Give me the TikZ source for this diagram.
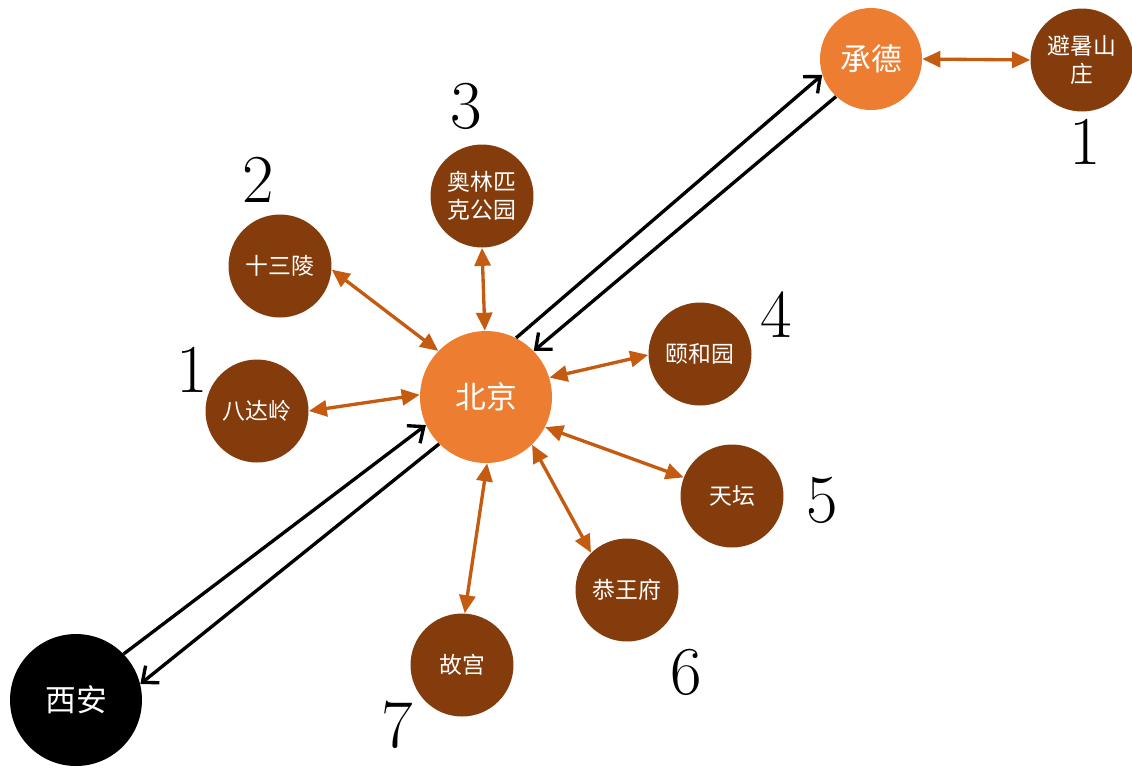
\documentclass[tikz,border=0pt]{standalone}
\usepackage{fontspec}
\newfontfamily\cjk{Noto Sans CJK SC}
\usetikzlibrary{arrows.meta}
\definecolor{hubOrange}{HTML}{ED7D31}
\definecolor{siteBrown}{HTML}{843C0C}
\definecolor{linkOrange}{HTML}{C55A11}
\tikzset{
  city/.style={circle, fill=hubOrange, text=white, minimum size=2.64cm, inner sep=0pt,
    font=\cjk\fontsize{17.5}{20}\selectfont},
  site/.style={circle, fill=siteBrown, text=white, minimum size=2.06cm, inner sep=0pt,
    align=center, font=\cjk\fontsize{13}{16}\selectfont},
  rank/.style={inner sep=0pt, font=\fontsize{39}{39}\selectfont},
  link/.style={linkOrange, line width=1.9pt,
    {Triangle[length=3.6mm,width=3.2mm]}-{Triangle[length=3.6mm,width=3.2mm]}},
  route/.style={black, line width=1.9pt, -{Straight Barb[length=2.6mm,width=4.4mm]}}
}
\begin{document}
\begin{tikzpicture}[x=0.02cm, y=-0.02cm]
    \useasboundingbox (0,0) rectangle (1132,769);

    % Cities
    \node[city] (bj) at (486,397) {北京};
    \node[city, minimum size=2.04cm] (cd) at (871,59) {承德};
    \node[city, fill=black] (xa) at (76,700) {西安};

    % Sights
    \node[site] (bss) at (1082,60) {避暑山\\庄};
    \node[site] (ssl) at (280,266) {十三陵};
    \node[site] (bdl) at (257,411) {八达岭};
    \node[site] (oly) at (482,196) {奥林匹\\克公园};
    \node[site] (yhy) at (700,354) {颐和园};
    \node[site] (tt) at (732,496) {天坛};
    \node[site] (gwf) at (627,590) {恭王府};
    \node[site] (gg) at (462,665) {故宫};

    % Ranks
    \node[rank] (r1) at (192,370) {1};
    \node[rank] (r2) at (258,180) {2};
    \node[rank] (r3) at (466,106) {3};
    \node[rank] (r4) at (776,315) {4};
    \node[rank] (r5) at (822,500) {5};
    \node[rank] (r6) at (686,672) {6};
    \node[rank] (r7) at (397,725) {7};
    \node[rank] (rc) at (1085,142) {1};

    % Routes between cities
    \draw[route] (xa.44) -- (bj.205);
    \draw[route] (bj.225) -- (xa.14);
    \draw[route] (bj.63) -- (cd.198);
    \draw[route] (cd.227) -- (bj.44);

    % Sights around each city
    \draw[link] (cd.0) -- (bss.180);
    \draw[link] (ssl.-4) -- (bj.136);
    \draw[link] (bdl.0) -- (bj.178);
    \draw[link] (oly.-90) -- (bj.91);
    \draw[link] (bj.17) -- (yhy.181);
    \draw[link] (bj.-27) -- (tt.159);
    \draw[link] (bj.-46) -- (gwf.134);
    \draw[link] (bj.-89) -- (gg.87);
\end{tikzpicture}
\end{document}
